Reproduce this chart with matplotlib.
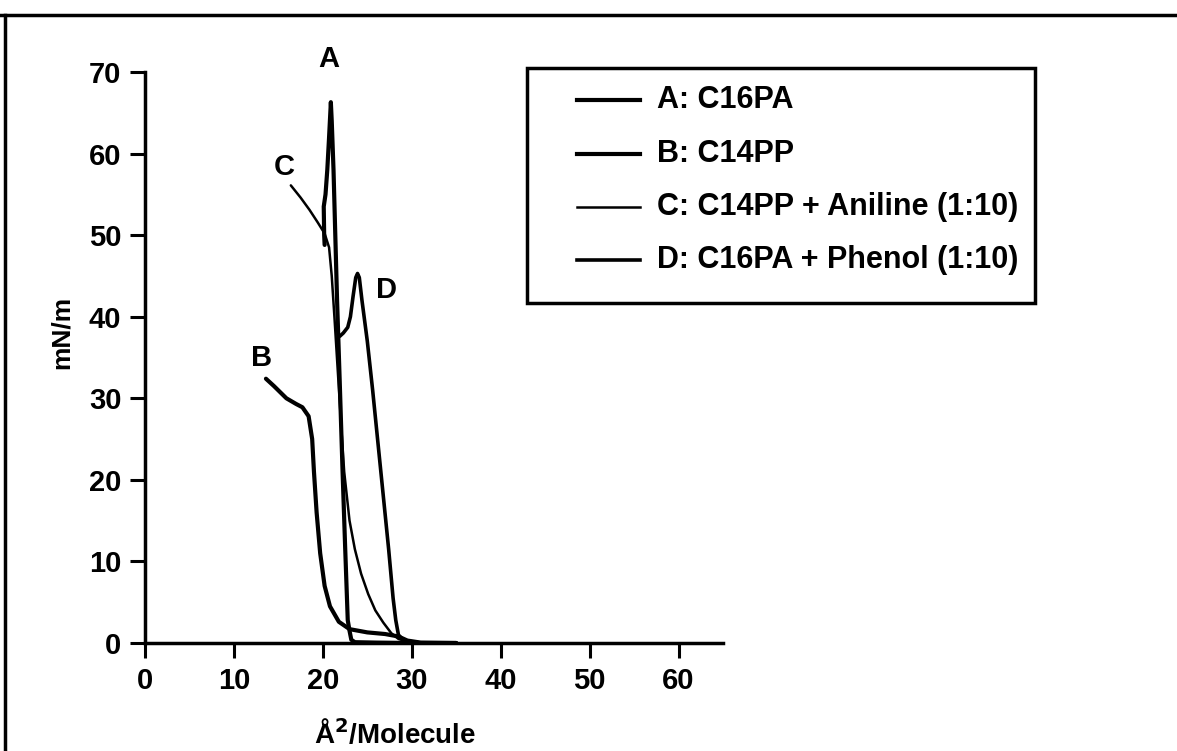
import matplotlib.pyplot as plt
from matplotlib.lines import Line2D
from matplotlib.patches import Rectangle

plt.rcParams['font.family'] = ['Liberation Sans', 'DejaVu Sans']
plt.rcParams['font.weight'] = 'bold'

W, H = 1177, 751

# A: C16PA
a_x = [35, 30, 26, 23.6, 23.2, 23.0, 22.8, 22.5, 22.2, 21.9, 21.6, 21.4, 21.2, 21.0, 20.9,
       20.7, 20.5, 20.3, 20.1, 20.15, 20.2]
a_y = [0, 0, 0.05, 0.1, 0.4, 1.5, 2.8, 12, 21.6, 32, 42, 50, 58, 64, 66.3,
       62, 58, 55, 53.5, 50, 48.8]

# B: C14PP
b_x = [13.6, 14.5, 15.9, 17.0, 17.7, 18.4, 18.8, 19.0, 19.3, 19.7, 20.2, 20.8, 21.8,
       23.0, 25.0, 27.0, 28.5, 29.5, 31.0, 35]
b_y = [32.4, 31.5, 30.0, 29.3, 28.9, 27.8, 25.0, 21.0, 16.0, 11.0, 7.0, 4.5, 2.6,
       1.7, 1.3, 1.1, 0.8, 0.3, 0.05, 0]

# C: C14PP + Aniline (1:10)
c_x = [16.4, 17.5, 18.5, 19.4, 20.2, 20.7, 21.0, 21.3, 21.7, 22.1, 22.4, 23.0, 23.6,
       24.3, 25.1, 25.9, 26.8, 27.7, 28.5, 29.5, 31.0, 35]
c_y = [56.1, 54.6, 53.1, 51.6, 50.2, 48.5, 45.0, 40.0, 33.0, 26.0, 21.0, 15.0, 11.5,
       8.5, 6.0, 4.0, 2.5, 1.2, 0.5, 0.15, 0, 0]

# D: C16PA + Phenol (1:10)
d_x = [21.9, 22.3, 22.8, 23.1, 23.4, 23.7, 23.9, 24.1, 24.4, 25.0, 25.6, 26.2, 26.8,
       27.4, 27.9, 28.2, 28.5, 29.0, 30.0, 31.0, 35]
d_y = [37.6, 38.0, 38.7, 40.0, 42.5, 44.8, 45.3, 44.8, 42.0, 37.0, 31.0, 24.5, 18.0,
       11.5, 5.5, 2.8, 1.0, 0.4, 0.15, 0, 0]

legend_labels = ['A: C16PA', 'B: C14PP', 'C: C14PP + Aniline (1:10)', 'D: C16PA + Phenol (1:10)']
widths = [3.0, 3.0, 1.8, 2.6]


def fx(px):
    return px / W


def fy(py):
    return 1 - py / H


fig = plt.figure(figsize=(W / 100, H / 100), dpi=100)
ax = fig.add_axes([fx(145), fy(643), 578 / W, 571 / H])

for xs, ys, lw in zip([a_x, b_x, c_x, d_x], [a_y, b_y, c_y, d_y], widths):
    ax.plot(xs, ys, color='black', lw=lw, solid_capstyle='round', solid_joinstyle='round')

ax.set_xlim(0, 65)
ax.set_ylim(0, 70)
ax.set_xticks(range(0, 61, 10))
ax.set_yticks(range(0, 71, 10))
for side in ['top', 'right']:
    ax.spines[side].set_visible(False)
for side in ['left', 'bottom']:
    ax.spines[side].set_linewidth(2.5)
ax.tick_params(direction='out', length=11, width=2.2, labelsize=21, pad=6)

fig.text(fx(395), fy(735), 'Å$^2$/Molecule', fontsize=20, ha='center', va='center')
fig.text(fx(62), fy(332), 'mN/m', fontsize=19, rotation=90, ha='center', va='center')

# curve letters
ax.text(20.7, 71.6, 'A', fontsize=21, ha='center', va='center', clip_on=False)
ax.text(15.7, 58.4, 'C', fontsize=21, ha='center', va='center')
ax.text(13.1, 34.9, 'B', fontsize=21, ha='center', va='center')
ax.text(27.2, 43.3, 'D', fontsize=21, ha='center', va='center')

# legend box drawn in figure pixels
fig.add_artist(Rectangle((fx(527), fy(303)), 508 / W, 235 / H, fill=False,
                         edgecolor='black', lw=2.5, transform=fig.transFigure))
row_y = [100, 154, 207, 260]
for ry, lab, lw in zip(row_y, legend_labels, widths):
    fig.add_artist(Line2D([fx(577), fx(640)], [fy(ry), fy(ry)], color='black', lw=lw))
    fig.text(fx(657), fy(ry), lab, fontsize=22, ha='left', va='center')

# scanned page border (top and left)
fig.add_artist(Line2D([0, 1], [fy(15), fy(15)], color='black', lw=2.5))
fig.add_artist(Line2D([fx(5), fx(5)], [0, fy(15)], color='black', lw=2.5))

fig.savefig('out.png', dpi=100)
